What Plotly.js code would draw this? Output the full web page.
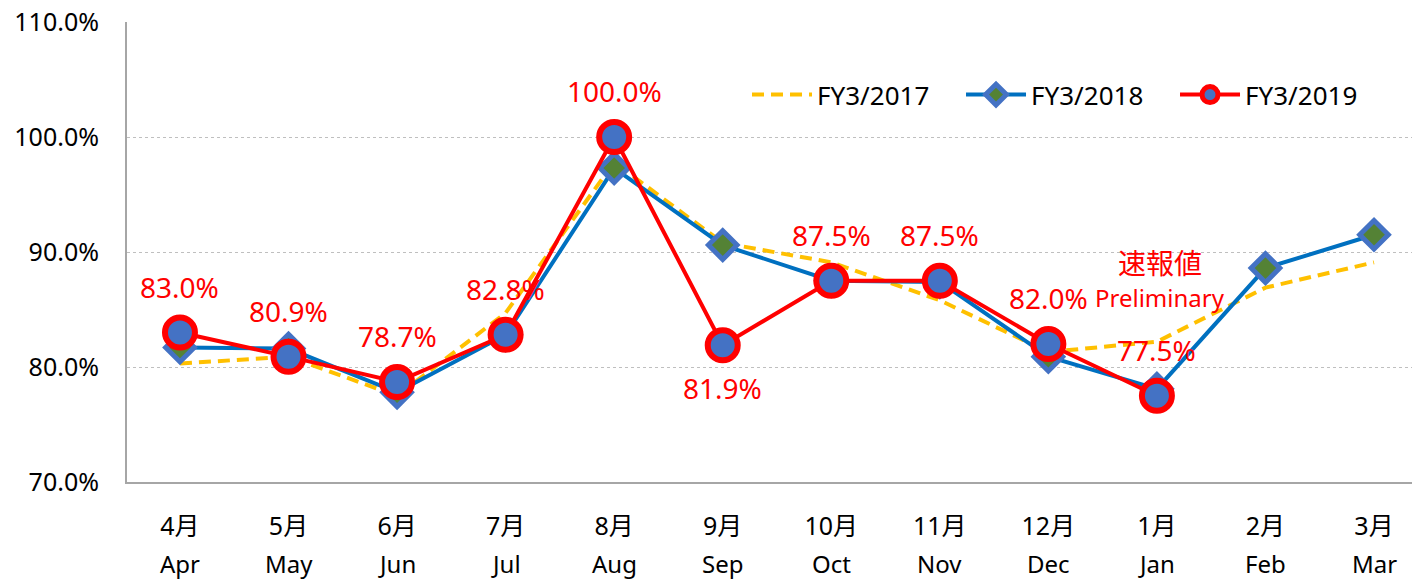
<!DOCTYPE html>
<html>
<head>
<meta charset="utf-8">
<script src="https://cdn.plot.ly/plotly-3.0.1.min.js"></script>
<style>html,body{margin:0;padding:0;background:#fff;}#chart{width:1412px;height:581px;}</style>
</head>
<body>
<div id="chart"></div>
<script>
const monthsJP = ['4月','5月','6月','7月','8月','9月','10月','11月','12月','1月','2月','3月'];
const monthsEN = ['Apr','May','Jun','Jul','Aug','Sep','Oct','Nov','Dec','Jan','Feb','Mar'];
const fy2017 = [80.3, 80.9, 77.5, 84.7, 97.8, 90.8, 89.1, 85.8, 81.3, 82.2, 86.9, 89.1];
const fy2018 = [81.7, 81.6, 77.8, 82.8, 97.3, 90.6, 87.5, 87.4, 80.9, 78.1, 88.6, 91.5];
const fy2019 = [83.0, 80.9, 78.7, 82.8, 100.0, 81.9, 87.5, 87.5, 82.0, 77.5];
const labelPos = ['above','above','above','above','above','below','above','above','above','above'];
const seriesNames = ['FY3/2017','FY3/2018','FY3/2019'];
const noteJP = '速報値';
const noteEN = 'Preliminary';

const idx = monthsJP.map((_, i) => i);
const FONT = '"Noto Sans", "Noto Sans CJK JP", sans-serif';

const traces = [
  {x: idx, y: fy2017, name: seriesNames[0], type: 'scatter', mode: 'lines',
   line: {color: '#FFC000', width: 4, dash: '12px,7px'}},
  {x: idx, y: fy2018, name: seriesNames[1], type: 'scatter', mode: 'lines+markers',
   line: {color: '#0070C0', width: 4},
   marker: {symbol: 'diamond', size: 22, color: '#548235', line: {color: '#4472C4', width: 5}}},
  {x: idx.slice(0, fy2019.length), y: fy2019, name: seriesNames[2], type: 'scatter', mode: 'lines+markers',
   line: {color: '#FF0000', width: 4},
   marker: {symbol: 'circle', size: 30, color: '#4472C4', line: {color: '#FF0000', width: 6}}}
];

const annotations = [];
fy2019.forEach((v, i) => {
  annotations.push({x: i, y: v, xref: 'x', yref: 'y', text: v.toFixed(1) + '%', showarrow: false,
    yshift: labelPos[i] === 'above' ? 46 : -43, font: {family: FONT, size: 28, color: '#FF0000'}});
});
monthsEN.forEach((m, i) => {
  annotations.push({x: i, y: 0, xref: 'x', yref: 'paper', yanchor: 'middle', yshift: -81, text: m,
    showarrow: false, font: {family: FONT, size: 24, color: '#000'}});
});
annotations.push({x: 9.03, y: 0, xref: 'x', yref: 'paper', yanchor: 'middle', text: noteJP, showarrow: false,
  yshift: 482 - 263, font: {family: FONT, size: 28, color: '#FF0000'}});
annotations.push({x: 9.03, y: 0, xref: 'x', yref: 'paper', yanchor: 'middle', text: noteEN, showarrow: false,
  yshift: 482 - 297, font: {family: FONT, size: 24, color: '#FF0000'}});

const layout = {
  width: 1412, height: 581,
  margin: {l: 127, r: 0, t: 22, b: 99},
  paper_bgcolor: '#fff', plot_bgcolor: '#fff',
  font: {family: FONT, color: '#000'},
  showlegend: true,
  legend: {orientation: 'h', x: 0.4825, y: 0.842, xanchor: 'left', yanchor: 'middle',
    font: {family: FONT, size: 26, color: '#000'}, itemwidth: 60, entrywidth: 139, entrywidthmode: 'pixels',
    bgcolor: 'rgba(0,0,0,0)', traceorder: 'normal'},
  xaxis: {range: [-0.488, 11.35], tickvals: idx, ticktext: monthsJP, showgrid: false, zeroline: false,
    showline: true, linecolor: '#A6A6A6', linewidth: 2, ticks: '', ticklabelstandoff: 21,
    tickfont: {family: FONT, size: 25, color: '#000'}, fixedrange: true},
  yaxis: {range: [70, 110], dtick: 10, tick0: 70, tickformat: '.1f', ticksuffix: '%', showgrid: true,
    gridcolor: '#BFBFBF', griddash: 'dot', gridwidth: 1, zeroline: false, showline: true,
    linecolor: '#A6A6A6', linewidth: 2, ticks: '', ticklabelstandoff: 21,
    tickfont: {family: FONT, size: 25, color: '#000'}, fixedrange: true},
  annotations: annotations
};

Plotly.newPlot('chart', traces, layout, {displayModeBar: false, staticPlot: true});
</script>
</body>
</html>
